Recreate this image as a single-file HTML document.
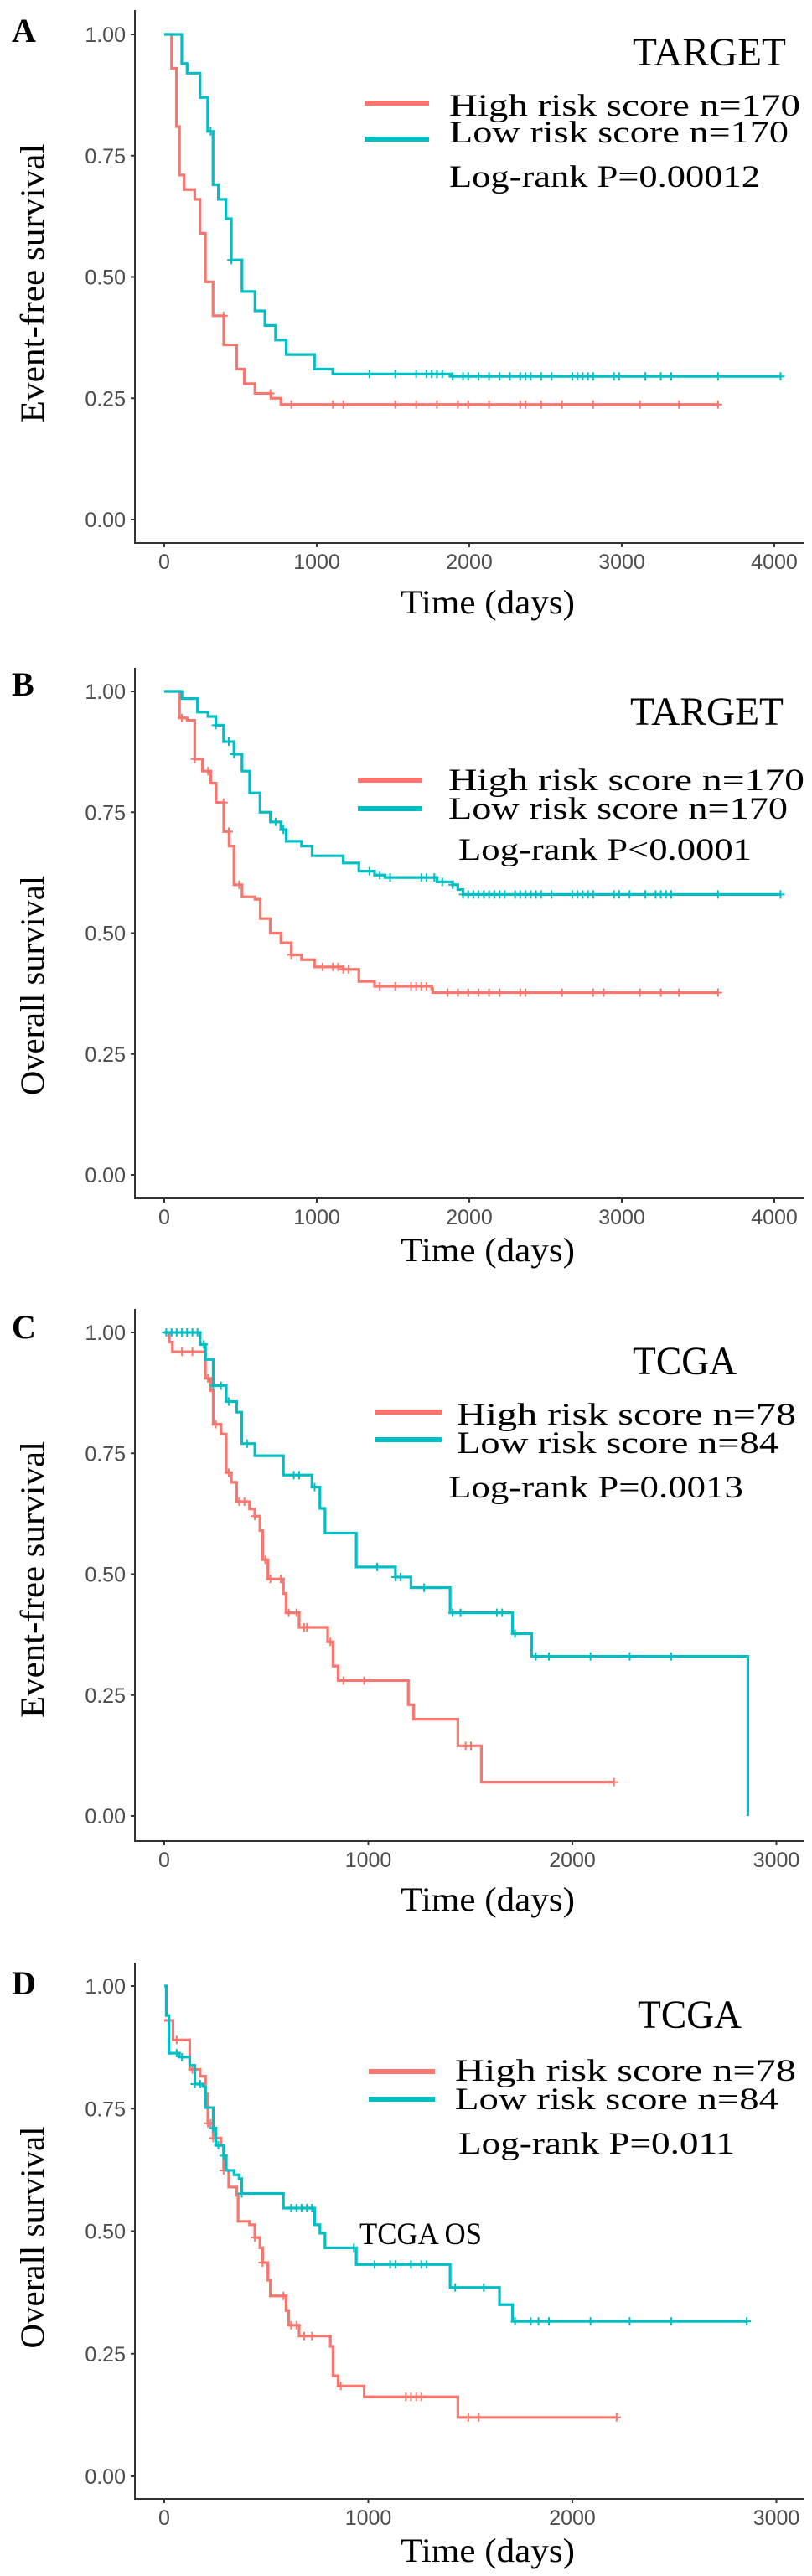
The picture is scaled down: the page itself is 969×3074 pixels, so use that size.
<!DOCTYPE html>
<html><head><meta charset="utf-8">
<style>
html,body{margin:0;padding:0;background:#fff;}
svg{display:block;}
</style></head>
<body>
<svg id="fig" width="969" height="3074" viewBox="0 0 969 3074" xmlns="http://www.w3.org/2000/svg"></svg>
<script>
// ---------- Data (time in days, survival probability) ----------
const xTicksA = [0, 1000, 2000, 3000, 4000];
const xTicksC = [0, 1000, 2000, 3000];
const yTicks = [0, 0.25, 0.5, 0.75, 1];
const yTickLabels = ["0.00", "0.25", "0.50", "0.75", "1.00"];

// Panel A (TARGET EFS)
const aHighT = [0,48,80,100,130,200,235,270,320,390,475,525,595,700,765,3631];
const aHighS = [1,0.93,0.81,0.71,0.68,0.66,0.59,0.49,0.42,0.36,0.31,0.28,0.26,0.25,0.237,0.237];
const aHighC = [389,696,833,1106,1174,1515,1652,1788,1925,1993,2130,2334,2369,2471,2608,2812,3119,3375,3631];
const aLowT = [0,80,115,150,200,235,285,320,355,405,440,510,595,660,730,800,900,985,1105,1860,1880,4041];
const aLowS = [1,1,0.94,0.92,0.92,0.87,0.80,0.69,0.66,0.62,0.535,0.47,0.43,0.40,0.37,0.34,0.34,0.31,0.30,0.30,0.295,0.295];
const aLowC = [304,440,1345,1515,1652,1720,1754,1788,1823,1891,1959,1993,2061,2130,2198,2266,2334,2369,2403,2471,2539,2676,2710,2744,2778,2812,2949,2983,3154,3256,3324,3631,4041];

// Panel B (TARGET OS)
const bHighT = [0,65,100,150,200,250,305,340,390,425,457,510,595,630,695,765,833,900,985,1174,1276,1379,1754,1760,3631];
const bHighS = [1,1,0.945,0.94,0.86,0.835,0.81,0.77,0.71,0.68,0.60,0.575,0.57,0.53,0.50,0.48,0.455,0.445,0.43,0.425,0.40,0.39,0.385,0.377,0.377];
const bHighC = [116,201,287,389,423,491,833,1038,1106,1140,1174,1208,1413,1515,1618,1652,1686,1720,1857,1925,1993,2061,2130,2198,2334,2369,2608,2812,2881,3119,3256,3375,3631];
const bLowT = [0,65,116,218,287,338,389,457,510,560,628,696,765,800,900,970,1106,1174,1276,1379,1447,1754,1788,1891,1925,1959,4041];
const bLowS = [1,1,0.985,0.957,0.948,0.93,0.896,0.87,0.835,0.79,0.75,0.73,0.714,0.69,0.68,0.66,0.66,0.645,0.628,0.62,0.615,0.615,0.606,0.60,0.59,0.58,0.58];
const bLowC = [338,423,457,730,781,1345,1413,1481,1686,1720,1771,1823,1891,1959,1993,2027,2061,2096,2130,2164,2198,2232,2300,2334,2369,2403,2437,2471,2539,2676,2710,2744,2778,2812,2949,2983,3051,3154,3222,3256,3290,3324,3631,4041];

// Panel C (TCGA EFS)
const cHighT = [0,25,40,189,202,227,240,278,304,329,355,418,444,469,482,508,584,597,661,801,827,852,1196,1222,1439,1554,2204];
const cHighS = [1,0.98,0.96,0.96,0.905,0.88,0.81,0.79,0.71,0.69,0.65,0.635,0.62,0.59,0.53,0.49,0.46,0.42,0.39,0.36,0.31,0.28,0.23,0.20,0.145,0.07,0.07];
const cHighC = [87,138,214,253,316,367,393,444,495,520,571,610,648,686,699,814,878,980,1477,1503,2204];
const cLowT = [0,176,202,240,304,355,380,444,584,724,763,788,941,1133,1209,1401,1707,1801,2860];
const cLowS = [1,0.975,0.944,0.89,0.857,0.835,0.77,0.745,0.705,0.68,0.636,0.585,0.515,0.494,0.472,0.42,0.377,0.33,0];
const cLowC = [10,36,61,87,112,138,163,194,240,278,316,406,635,661,737,1043,1133,1158,1273,1413,1452,1630,1656,1719,1821,1885,2089,2281,2485];

// Panel D (TCGA OS)
const dHighT = [0,43,125,176,202,214,240,278,291,316,355,362,418,444,469,482,508,520,597,610,661,814,827,852,980,1439,2217];
const dHighS = [0.93,0.89,0.83,0.816,0.78,0.72,0.69,0.675,0.624,0.59,0.573,0.52,0.513,0.487,0.466,0.436,0.40,0.368,0.338,0.308,0.286,0.265,0.205,0.184,0.162,0.12,0.12];
const dHighC = [23,61,138,214,227,240,253,291,444,482,584,622,648,686,724,865,1184,1209,1235,1260,1490,1541,2217];
const dLowT = [0,10,23,74,125,150,189,202,240,253,291,304,342,367,380,584,737,763,788,941,1401,1643,1707,2860];
const dLowS = [1,0.94,0.863,0.855,0.838,0.80,0.795,0.752,0.71,0.675,0.654,0.624,0.615,0.607,0.577,0.547,0.513,0.496,0.466,0.432,0.385,0.35,0.316,0.316];
const dLowC = [61,87,150,176,240,265,291,380,622,648,673,699,724,929,1031,1107,1133,1209,1260,1286,1426,1566,1719,1796,1834,1885,2089,2281,2485,2855];

// ---------- Rendering ----------
const NS = "http://www.w3.org/2000/svg";
const svg = document.getElementById("fig");
const RED = "#F8766D", TEAL = "#00BFC4", AX = "#333333";

function mk(tag, attrs, parent) {
  const e = document.createElementNS(NS, tag);
  for (const k in attrs) e.setAttribute(k, attrs[k]);
  (parent || svg).appendChild(e);
  return e;
}
function txt(s, attrs, parent) { const e = mk("text", attrs, parent); e.textContent = s; return e; }

function stepVal(T, S, t) {
  let v = S[0];
  for (let i = 0; i < T.length; i++) { if (T[i] <= t) v = S[i]; else break; }
  return v;
}

const panels = [
  {id:"a", letter:"A", letterY:50, y1:41, y0:620, axisY:648, axisTop:12, xmaxPx:0.182, ticks:xTicksA,
   ytitle:"Event-free survival", ytitleY:338, ytitleLen:333, xtitleY:732,
   cohort:"TARGET", cohortRight:938, cohortY:78, cohortLen:183,
   redLineY:123, tealLineY:166, legX1:435, legX2:512, highY:138, lowY:170, textX:536,
   highText:"High risk score n=170", highLen:419, lowText:"Low risk score n=170", lowLen:405,
   lrText:"Log-rank P=0.00012", lrX:536, lrY:223, lrLen:371,
   high:[aHighT,aHighS,aHighC], low:[aLowT,aLowS,aLowC]},
  {id:"b", letter:"B", letterY:830, y1:825, y0:1402, axisY:1430, axisTop:797, xmaxPx:0.182, ticks:xTicksA,
   ytitle:"Overall survival", ytitleY:1176, ytitleLen:262, xtitleY:1505,
   cohort:"TARGET", cohortRight:935, cohortY:865, cohortLen:183,
   redLineY:931, tealLineY:965, legX1:427, legX2:504, highY:943, lowY:977, textX:535,
   highText:"High risk score n=170", highLen:425, lowText:"Low risk score n=170", lowLen:405,
   lrText:"Log-rank P<0.0001", lrX:547, lrY:1026, lrLen:350,
   high:[bHighT,bHighS,bHighC], low:[bLowT,bLowS,bLowC]},
  {id:"c", letter:"C", letterY:1597, y1:1590, y0:2167, axisY:2197, axisTop:1562, xmaxPx:0.2435, ticks:xTicksC,
   ytitle:"Event-free survival", ytitleY:1885, ytitleLen:330, xtitleY:2280,
   cohort:"TCGA", cohortRight:879, cohortY:1640, cohortLen:124,
   redLineY:1685, tealLineY:1718, legX1:448, legX2:527, highY:1700, lowY:1734, textX:545,
   highText:"High risk score n=78", highLen:405, lowText:"Low risk score n=84", lowLen:384,
   lrText:"Log-rank P=0.0013", lrX:535, lrY:1787, lrLen:352,
   high:[cHighT,cHighS,cHighC], low:[cLowT,cLowS,cLowC]},
  {id:"d", letter:"D", letterY:2380, y1:2370, y0:2955, axisY:2982, axisTop:2342, xmaxPx:0.2435, ticks:xTicksC,
   ytitle:"Overall survival", ytitleY:2670, ytitleLen:265, xtitleY:3057,
   cohort:"TCGA", cohortRight:885, cohortY:2420, cohortLen:124,
   redLineY:2472, tealLineY:2505, legX1:440, legX2:519, highY:2483, lowY:2517, textX:543,
   highText:"High risk score n=78", highLen:407, lowText:"Low risk score n=84", lowLen:386,
   lrText:"Log-rank P=0.011", lrX:547, lrY:2570, lrLen:330,
   high:[dHighT,dHighS,dHighC], low:[dLowT,dLowS,dLowC],
   extra:{text:"TCGA OS", x:429, y:2678, len:146}}
];

const X0 = 196, AXIS_X = 161, AXIS_R = 960;
const SERIF = '"Liberation Serif", serif';
const SANS = '"Liberation Sans", sans-serif';

panels.forEach(p => {
  const g = mk("g", {});
  
  
  const xs = t => X0 + t * p.xmaxPx;
  const ys = v => p.y0 - v * (p.y0 - p.y1);

  const L = txt(p.letter, {x:14, y:p.letterY, "font-family":SERIF, "font-weight":"bold", "font-size":40, fill:"#000"}, g);
  
  

  const ya = mk("line", {x1:AXIS_X, y1:p.axisTop, x2:AXIS_X, y2:p.axisY+1, stroke:AX, "stroke-width":2}, g);
  
  
  const xa = mk("line", {x1:AXIS_X-1, y1:p.axisY, x2:AXIS_R, y2:p.axisY, stroke:AX, "stroke-width":2}, g);
  
  

  yTicks.forEach((v, i) => {
    const y = ys(v);
    mk("line", {x1:AXIS_X-5, y1:y, x2:AXIS_X, y2:y, stroke:AX, "stroke-width":2}, g);
    const t = txt(yTickLabels[i], {x:150, y:y+9, "text-anchor":"end", "font-family":SANS, "font-size":25, fill:"#4d4d4d"}, g);
    
    
  });
  p.ticks.forEach(v => {
    const x = xs(v);
    mk("line", {x1:x, y1:p.axisY, x2:x, y2:p.axisY+5, stroke:AX, "stroke-width":2}, g);
    const t = txt(String(v), {x:x, y:p.axisY+31, "text-anchor":"middle", "font-family":SANS, "font-size":25, fill:"#4d4d4d"}, g);
    
    
  });

  const yt = txt(p.ytitle, {x:0, y:0, "text-anchor":"middle", "font-family":SERIF, "font-size":40, fill:"#000",
    textLength:p.ytitleLen, lengthAdjust:"spacingAndGlyphs",
    transform:`translate(52,${p.ytitleY}) rotate(-90)`}, g);
  
  
  const xt = txt("Time (days)", {x:582, y:p.xtitleY, "text-anchor":"middle", "font-family":SERIF, "font-size":40, fill:"#000",
    textLength:208, lengthAdjust:"spacingAndGlyphs"}, g);
  
  

  [[p.high, RED, "high-risk"], [p.low, TEAL, "low-risk"]].forEach(([ser, col, nm]) => {
    const [T, S, C] = ser;
    let d = `M${xs(T[0])},${ys(S[0])}`;
    for (let i = 1; i < T.length; i++) {
      d += ` H${xs(T[i])} V${ys(S[i])}`;
    }
    const path = mk("path", {d:d, fill:"none", stroke:col, "stroke-width":3.2}, g);
    
    
    C.forEach(t => {
      const cx = xs(t), cy = ys(stepVal(T, S, t));
      const m = mk("path", {d:`M${cx-5},${cy} H${cx+5} M${cx},${cy-5} V${cy+5}`, stroke:col, "stroke-width":2, fill:"none"}, g);
      
      
    });
  });

  const ct = txt(p.cohort, {x:p.cohortRight, y:p.cohortY, "text-anchor":"end", "font-family":SERIF, "font-size":48, fill:"#000",
    textLength:p.cohortLen, lengthAdjust:"spacingAndGlyphs"}, g);
  
  

  const l1 = mk("line", {x1:p.legX1, y1:p.redLineY, x2:p.legX2, y2:p.redLineY, stroke:RED, "stroke-width":6}, g);
  
  
  const l2 = mk("line", {x1:p.legX1, y1:p.tealLineY, x2:p.legX2, y2:p.tealLineY, stroke:TEAL, "stroke-width":6}, g);
  
  
  const h = txt(p.highText, {x:p.textX, y:p.highY, "font-family":SERIF, "font-size":37, fill:"#000",
    textLength:p.highLen, lengthAdjust:"spacingAndGlyphs"}, g);
  
  
  const lo = txt(p.lowText, {x:p.textX, y:p.lowY, "font-family":SERIF, "font-size":37, fill:"#000",
    textLength:p.lowLen, lengthAdjust:"spacingAndGlyphs"}, g);
  
  
  const lr = txt(p.lrText, {x:p.lrX, y:p.lrY, "font-family":SERIF, "font-size":37, fill:"#000",
    textLength:p.lrLen, lengthAdjust:"spacingAndGlyphs"}, g);
  
  

  if (p.extra) {
    const ex = txt(p.extra.text, {x:p.extra.x, y:p.extra.y, "font-family":SERIF, "font-size":37, fill:"#000",
      textLength:p.extra.len, lengthAdjust:"spacingAndGlyphs"}, g);
    
    
  }
});
</script>
</body></html>
